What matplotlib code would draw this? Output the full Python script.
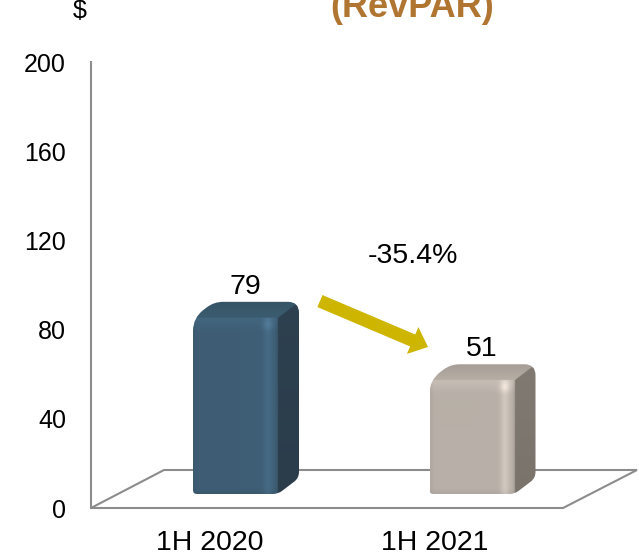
import numpy as np
import matplotlib
matplotlib.use("Agg")
import matplotlib.pyplot as plt
from matplotlib.path import Path
from matplotlib.patches import PathPatch, Polygon
from matplotlib.colors import to_rgb

# ---- data -------------------------------------------------------------
categories = ["1H 2020", "1H 2021"]
revpar = [79, 51]
change_text = "-35.4%"
y_ticks = [0, 40, 80, 120, 160, 200]
title_text = "(RevPAR)"
unit_text = "$"

# ---- styling ----------------------------------------------------------
front_colors = ["#3E5E75", "#B8B0A8"]
side_colors = ["#2B3D4B", "#79736C"]
top_colors = ["#365466", "#A69E96"]
grey = "#8C8C8C"
arrow_color = "#CDB500"
title_color = "#B07530"

plt.rcParams["font.family"] = ["Liberation Sans", "DejaVu Sans"]

W, H = 639, 556
fig = plt.figure(figsize=(W / 100, H / 100), dpi=100)

# plot frame in pixels
L, R, T, B = 91, 637, 62, 508
ax = fig.add_axes([L / W, 1 - B / H, (R - L) / W, (B - T) / H])
first_px, step_px = 235.5, 236.5
xlim = ((L - first_px) / step_px, (R - first_px) / step_px)
ylim = (0, 200)
sx = step_px                 # pixels per x unit
sy = (B - T) / 200.0         # pixels per y unit

# 3D look parameters (pixels)
bar_w_px = 85
depth_dx, depth_dy = 21, 16
base = 14 / sy               # bars stand in the middle of the floor
bar_w = bar_w_px / sx
ddx, ddy = depth_dx / sx, depth_dy / sy


def rounded_path(pts, radii):
    """Closed path through pts (data units) with corners rounded by radii (px)."""
    P = np.array(pts, dtype=float) * [sx, sy]
    n = len(P)
    verts, codes = [], []
    for k in range(n):
        p, a, b = P[k], P[k - 1], P[(k + 1) % n]
        da, db = a - p, b - p
        la, lb = np.hypot(*da), np.hypot(*db)
        r = min(radii[k], la / 2, lb / 2)
        s = p + da / la * r
        e = p + db / lb * r
        verts.append(s)
        codes.append(Path.MOVETO if k == 0 else Path.LINETO)
        verts += [p, e]
        codes += [Path.CURVE3, Path.CURVE3]
    verts.append(verts[0])
    codes.append(Path.CLOSEPOLY)
    return Path(np.array(verts) / [sx, sy], codes)


def bar_shading(Wp, Hp, dxp, dyp, cf, cs, ct, res=3):
    nx = int((Wp + dxp) * res) + 3
    ny = int((Hp + dyp) * res) + 3
    u = (np.arange(nx) + 0.5) / res
    v = (np.arange(ny) + 0.5) / res
    U, V = np.meshgrid(u, v)
    cf, cs, ct = (np.array(to_rgb(c)) for c in (cf, cs, ct))

    front = (U <= Wp) & (V <= Hp)
    t_side = (U - Wp) / dxp
    side = (~front) & (U > Wp) & (V - t_side * dyp <= Hp)
    top = ~(front | side)

    # front face: light strip near the right edge, soft top bevel
    ff = (1.0
          + 0.13 * np.exp(-((U - (Wp - 10)) / 4.5) ** 2)
          - 0.10 * np.clip((U - (Wp - 3)) / 3, 0, 1)
          - 0.05 * np.clip(1 - U / 5, 0, 1)
          + 0.08 * np.clip((V - (Hp - 14)) / 14, 0, 1)
          + 0.14 * np.exp(-(((U - (Wp - 10)) / 5) ** 2 + ((V - (Hp - 7)) / 5) ** 2))
          - 0.05 * np.clip(1 - V / 6, 0, 1))
    # side face: slightly lighter toward the top
    fs = 1.0 + 0.06 * np.clip(V / (Hp + dyp), 0, 1)
    # top face: lighter at the front edge
    t_top = np.clip((V - Hp) / dyp, 0, 1)
    ft = 1.0 + 0.10 * (1 - t_top)

    img = np.zeros((ny, nx, 3))
    img[front] = (cf[None, :] * ff[front][:, None])
    img[side] = (cs[None, :] * fs[side][:, None])
    img[top] = (ct[None, :] * ft[top][:, None])
    return np.clip(img, 0, 1), nx / res, ny / res


# floor of the 3D chart
floor_back = 38 / sy
floor = Polygon([(xlim[0], 0), ((563 - first_px) / sx, 0),
                 (xlim[1], floor_back), ((164 - first_px) / sx, floor_back)],
                closed=True, facecolor="white", edgecolor=grey, lw=1.5,
                zorder=1, clip_on=False)
ax.add_patch(floor)

# bars
for i, val in enumerate(revpar):
    x0, x1 = i - bar_w / 2, i + bar_w / 2
    y0, y1 = base, base + val
    outline = [(x0, y0), (x1, y0), (x1 + ddx, y0 + ddy),
               (x1 + ddx, y1 + ddy), (x0 + ddx, y1 + ddy), (x0, y1)]
    path = rounded_path(outline, [4, 5, 6, 11, 9, 14])
    clip = PathPatch(path, facecolor="none", edgecolor="none", zorder=3)
    ax.add_patch(clip)
    img, wpx, hpx = bar_shading(bar_w_px, val * sy, depth_dx, depth_dy,
                                front_colors[i], side_colors[i], top_colors[i])
    im = ax.imshow(img, origin="lower", aspect="auto", interpolation="bilinear",
                   extent=(x0, x0 + wpx / sx, y0, y0 + hpx / sy), zorder=3)
    im.set_clip_path(clip)

    ax.text(i + 0.043, y1 + 10.8, f"{val}", ha="center", va="baseline",
            fontsize=20.5, color="black", zorder=5)

# change arrow and label
ax.annotate("", xy=(0.814, 72.2), xytext=(0.357, 92.8),
            arrowprops=dict(arrowstyle="simple,head_length=1.2,head_width=2.1,tail_width=0.94",
                            mutation_scale=10, fc=arrow_color, ec="none",
                            shrinkA=0, shrinkB=0),
            annotation_clip=False, zorder=4)
ax.text(0.7505, 109.9, change_text, ha="center", va="baseline",
        fontsize=20.5, color="black")

# category labels
label_x = [(209.5 - first_px) / sx, (435 - first_px) / sx]
for xpos, cat in zip(label_x, categories):
    ax.text(xpos, -42.5 / sy, cat, ha="center", va="baseline",
            fontsize=20.5, color="black", clip_on=False)

# axes styling
ax.set_xlim(*xlim)
ax.set_ylim(*ylim)
ax.set_yticks(y_ticks)
ax.set_yticklabels([str(t) for t in y_ticks])
ax.tick_params(axis="y", length=0, pad=18.0, labelsize=18, colors="black")
ax.set_xticks([])
for side in ("top", "right", "bottom"):
    ax.spines[side].set_visible(False)
ax.spines["left"].set_color(grey)
ax.spines["left"].set_linewidth(1.5)
ax.patch.set_visible(False)

# title and unit
fig.text(412 / W, 1 - 17 / H, title_text, ha="center", va="baseline",
         fontsize=26, fontweight="bold", color=title_color)
fig.text(80 / W, 1 - 18 / H, unit_text, ha="center", va="baseline",
         fontsize=18, color="black")

fig.savefig("out.png", dpi=100)
